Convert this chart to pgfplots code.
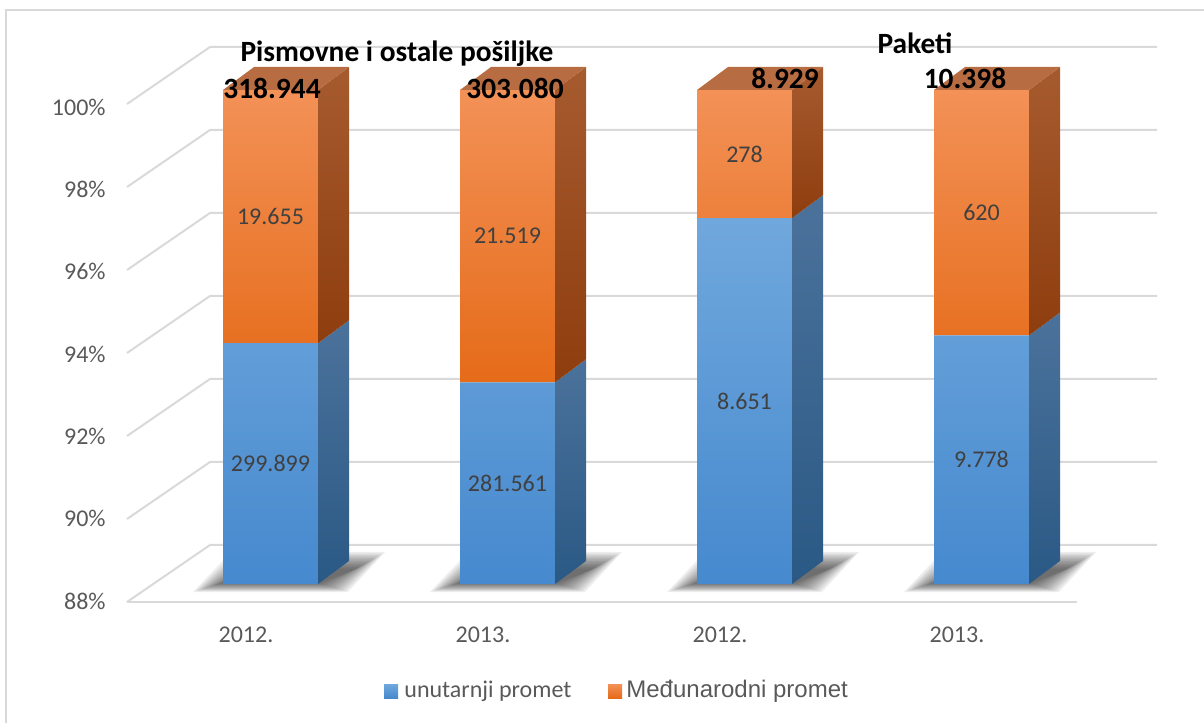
\documentclass[border=0pt]{standalone}
\usepackage{pgfplots}
\pgfplotsset{compat=1.18}
\usepackage{pgfplotstable}
\usepackage{fontspec}
\setmainfont{Carlito}
\newfontfamily\arialfont{Liberation Sans}

\definecolor{gridc}{HTML}{D9D9D9}
\definecolor{tickc}{HTML}{595959}
\definecolor{labc}{HTML}{404040}
\definecolor{bluetop}{HTML}{70A8DD}
\definecolor{bluebot}{HTML}{4689CE}
\definecolor{orgtop}{HTML}{F39157}
\definecolor{orgbot}{HTML}{E56B19}
\definecolor{bsidetop}{HTML}{4B729B}
\definecolor{bsidebot}{HTML}{2A5985}
\definecolor{osidetop}{HTML}{A65B2F}
\definecolor{osidebot}{HTML}{8E3D0E}
\definecolor{otop}{HTML}{B86C42}

% x = bar centre (px), dom = unutarnji promet, intl = medunarodni promet
\pgfplotstableread{
x      dom     intl   dlab     ilab
270.5  299899  19655  299.899  19.655
507.5  281561  21519  281.561  21.519
744.5  8651    278    8.651    278
981.5  9778    620    9.778    620
}\bardata

\begin{document}
\begin{tikzpicture}
\path[use as bounding box] (0,0) rectangle (602pt,361.5pt);
% ---------- background: frame, walls, floor, shadows (pixel coordinates)
\begin{scope}[shift={(0,361.5pt)}, x=0.5pt, y=-0.5pt]
  \draw[gridc, line width=1pt] (6,723) -- (6,10) -- (1204,10);
  \foreach \k in {0,...,6}{
    \pgfmathsetmacro\yy{47+83*\k}
    \draw[gridc, line width=1pt] (127,\yy+57) -- (210,\yy) -- (1157,\yy);
  }
  \draw[gridc, line width=1pt] (127,602) -- (1077,602);
  \foreach \L in {223,460,697,934}{
    \foreach \i in {0,...,11}{
      \fill[black, opacity=0.065]
        (\L-30+2.5*\i, 592-0.8*\i) -- (\L+125-2.5*\i, 592-0.8*\i) --
        (\L+162-2.5*\i, 552+1.5*\i) -- (\L+8+2.5*\i, 552+1.5*\i) -- cycle;
    }
  }
\end{scope}

% ---------- front faces of the bars
\begin{axis}[
  at={(0pt,69.5pt)}, anchor=south west,
  scale only axis, width=602pt, height=292pt,
  xmin=0, xmax=1204, ymin=88, ymax=102.186,
  ybar stacked, bar width=47.5pt,
  axis x line*=bottom, axis y line*=left,
  axis line style={draw=none}, major tick length=0pt,
  ytick={88,90,92,94,96,98,100},
  yticklabels={88\%,90\%,92\%,94\%,96\%,98\%,100\%},
  yticklabel style={anchor=east, inner sep=0pt, xshift=53pt, yshift=-8.5pt,
    text=tickc, font=\fontsize{12}{14}\selectfont},
  xtick={246,483,720,957},
  xticklabels={2012.,2013.,2012.,2013.},
  xticklabel style={anchor=center, inner sep=0pt, yshift=-25.5pt,
    text=tickc, font=\fontsize{12}{14}\selectfont},
  clip=true,
]
\addplot[draw=none, fill=none] table[x=x, y expr=88] {\bardata};
\addplot[draw=none, top color=bluetop, bottom color=bluebot]
  table[x=x, y expr={100*\thisrow{dom}/(\thisrow{dom}+\thisrow{intl})-88}] {\bardata};
\addplot[draw=none, top color=orgtop, bottom color=orgbot]
  table[x=x, y expr={100*\thisrow{intl}/(\thisrow{dom}+\thisrow{intl})}] {\bardata};
\end{axis}

% ---------- side and top faces, data labels
\begin{axis}[
  at={(0pt,69.5pt)}, anchor=south west,
  scale only axis, width=602pt, height=292pt,
  xmin=0, xmax=1204, ymin=88, ymax=102.186,
  hide axis, clip=false,
]
% bar 1 (b = 93.849)
\addplot[draw=none, top color=bsidetop, bottom color=bsidebot] coordinates {(318,88) (349,88.5587) (349,94.408) (318,93.849)};
\addplot[draw=none, top color=osidetop, bottom color=osidebot] coordinates {(318,93.849) (349,94.408) (349,100.5587) (318,100)};
\addplot[draw=none, fill=otop] coordinates {(223,100) (254,100.5587) (349,100.5587) (318,100)};
% bar 2 (b = 92.900)
\addplot[draw=none, top color=bsidetop, bottom color=bsidebot] coordinates {(555,88) (586,88.5587) (586,93.459) (555,92.900)};
\addplot[draw=none, top color=osidetop, bottom color=osidebot] coordinates {(555,92.900) (586,93.459) (586,100.5587) (555,100)};
\addplot[draw=none, fill=otop] coordinates {(460,100) (491,100.5587) (586,100.5587) (555,100)};
% bar 3 (b = 96.887)
\addplot[draw=none, top color=bsidetop, bottom color=bsidebot] coordinates {(792,88) (823,88.5587) (823,97.446) (792,96.887)};
\addplot[draw=none, top color=osidetop, bottom color=osidebot] coordinates {(792,96.887) (823,97.446) (823,100.5587) (792,100)};
\addplot[draw=none, fill=otop] coordinates {(697,100) (728,100.5587) (823,100.5587) (792,100)};
% bar 4 (b = 94.037)
\addplot[draw=none, top color=bsidetop, bottom color=bsidebot] coordinates {(1029,88) (1060,88.5587) (1060,94.596) (1029,94.037)};
\addplot[draw=none, top color=osidetop, bottom color=osidebot] coordinates {(1029,94.037) (1060,94.596) (1060,100.5587) (1029,100)};
\addplot[draw=none, fill=otop] coordinates {(934,100) (965,100.5587) (1060,100.5587) (1029,100)};
% data labels at segment midpoints
\addplot[only marks, mark=none, nodes near coords, point meta=explicit symbolic,
  every node near coord/.append style={anchor=center, text=labc, font=\fontsize{12}{14}\selectfont}]
  table[x=x, y expr={(88+100*\thisrow{dom}/(\thisrow{dom}+\thisrow{intl}))/2}, meta=dlab] {\bardata};
\addplot[only marks, mark=none, nodes near coords, point meta=explicit symbolic,
  every node near coord/.append style={anchor=center, text=labc, font=\fontsize{12}{14}\selectfont}]
  table[x=x, y expr={(100+100*\thisrow{dom}/(\thisrow{dom}+\thisrow{intl}))/2}, meta=ilab] {\bardata};
\end{axis}

% ---------- titles, totals, legend (pixel coordinates)
\begin{scope}[shift={(0,361.5pt)}, x=0.5pt, y=-0.5pt]
  \tikzset{tot/.style={anchor=base, inner sep=0pt, font=\bfseries\fontsize{14.7}{17}\selectfont}}
  \node[tot] at (397,62) {Pismovne i ostale pošiljke};
  \node[tot] at (915,54) {Paketi};
  \node[tot] at (272,99) {318.944};
  \node[tot] at (515,99) {303.080};
  \node[tot] at (785,89) {8.929};
  \node[tot] at (965,89) {10.398};
  \shade[top color=bluetop, bottom color=bluebot] (384,684) rectangle (398,698);
  \node[anchor=base west, inner sep=0pt, text=tickc, font=\fontsize{12}{14}\selectfont] at (404,697) {unutarnji promet};
  \shade[top color=orgtop, bottom color=orgbot] (608,684) rectangle (622,698);
  \node[anchor=base west, inner sep=0pt, text=tickc, font=\arialfont\fontsize{12}{14}\selectfont] at (626,697) {Međunarodni promet};
\end{scope}
\end{tikzpicture}
\end{document}
